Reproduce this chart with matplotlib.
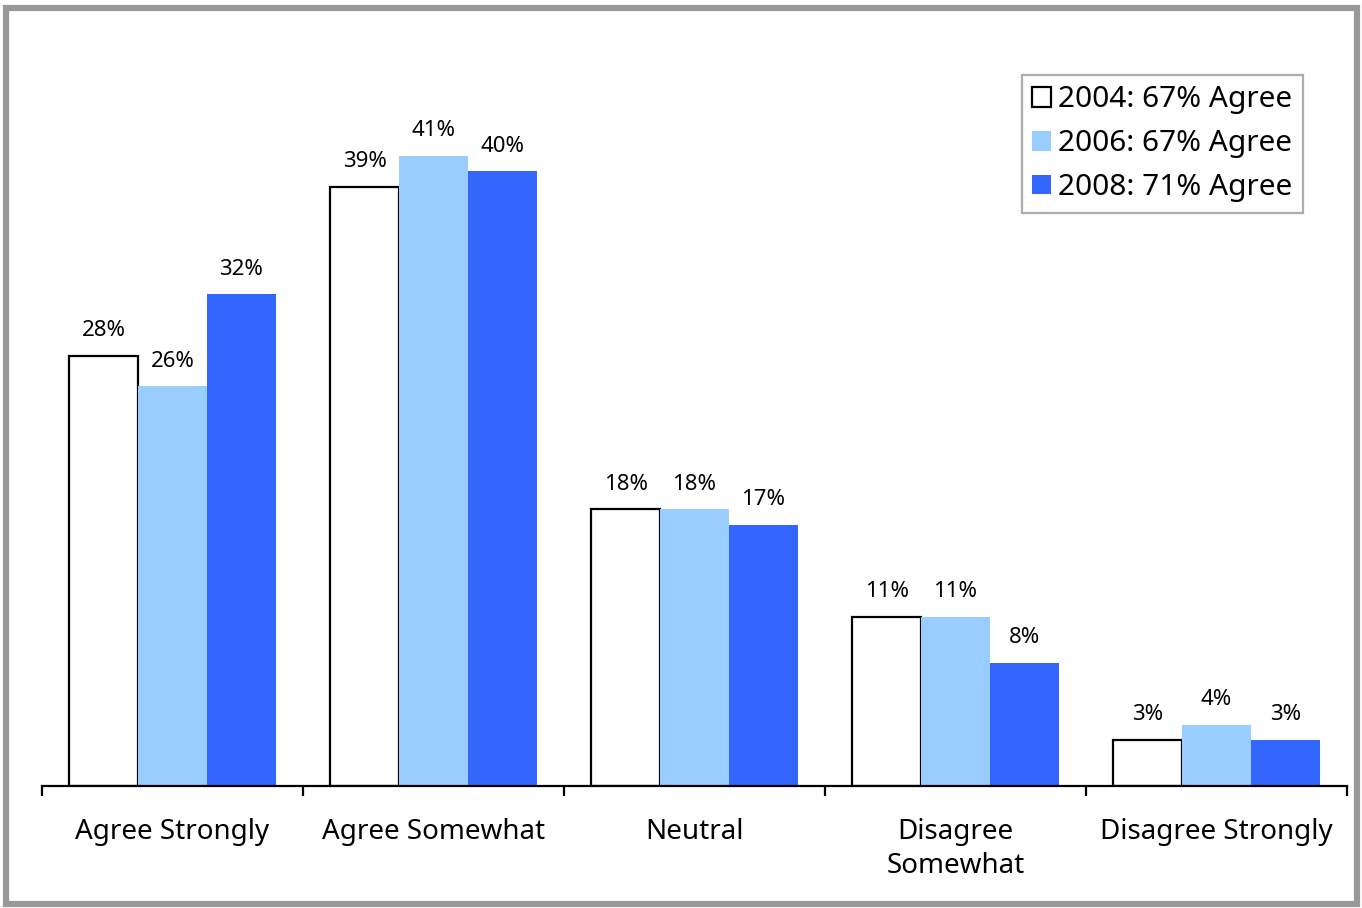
import matplotlib
matplotlib.use("Agg")
import matplotlib.pyplot as plt
from matplotlib.patches import Rectangle
import numpy as np

plt.rcParams['font.family'] = ['Noto Sans', 'DejaVu Sans']

categories = ["Agree Strongly", "Agree Somewhat", "Neutral", "Disagree\nSomewhat", "Disagree Strongly"]
series_labels = ["2004: 67% Agree", "2006: 67% Agree", "2008: 71% Agree"]
values_2004 = [28, 39, 18, 11, 3]
values_2006 = [26, 41, 18, 11, 4]
values_2008 = [32, 40, 17, 8, 3]

series = [values_2004, values_2006, values_2008]
faces = ["white", "#99CCFF", "#3366FF"]
edges = ["black", "none", "none"]

fig = plt.figure(figsize=(13.62, 9.08), dpi=100)
ax = fig.add_axes([42 / 1362, 1 - 786 / 908, 1305 / 1362, (786 - 17.5) / 908])

x = np.arange(len(categories))
w = 0.264
for k, vals in enumerate(series):
    pos = x + (k - 1) * w
    bars = ax.bar(pos, vals, width=w, color=faces[k], edgecolor=edges[k],
                  linewidth=1.6 if edges[k] != "none" else 0, label=series_labels[k], zorder=2)
    for b, v in zip(bars, vals):
        ax.annotate(f"{v}%", (b.get_x() + b.get_width() / 2, v), xytext=(0, 10.5),
                    textcoords="offset points", ha="center", va="bottom", fontsize=16)

ax.set_xlim(-0.5, len(categories) - 0.5)
ax.set_ylim(0, 50)
for s in ["left", "right", "top"]:
    ax.spines[s].set_visible(False)
ax.spines["bottom"].set_linewidth(1.6)
ax.spines["bottom"].set_zorder(3)
ax.set_yticks([])
ax.set_xticks(np.arange(len(categories) + 1) - 0.5, minor=False)
ax.set_xticklabels([])
ax.tick_params(axis="x", which="major", direction="out", length=7, width=1.6)
ax.set_xticks(x, minor=True)
ax.set_xticklabels(categories, minor=True, fontsize=20, linespacing=1.3)
ax.tick_params(axis="x", which="minor", length=0, pad=23)
for lbl in ax.get_xticklabels(minor=True):
    lbl.set_verticalalignment("top")

leg = ax.legend(loc="upper right", bbox_to_anchor=(1303 / 1362, 1 - 75 / 908),
                bbox_transform=fig.transFigure, fontsize=21.5, frameon=True, fancybox=False,
                handlelength=0.62, handleheight=0.62, handletextpad=0.25, labelspacing=0.5,
                borderpad=0.35, borderaxespad=0)
leg.get_frame().set_edgecolor("#999999")
leg.get_frame().set_linewidth(1.6)

fig.patches.append(Rectangle((5.5 / 1362, 1 - 903.5 / 908), 1351 / 1362, 896 / 908,
                             transform=fig.transFigure, fill=False, edgecolor="#999999",
                             linewidth=4.5, zorder=10))

fig.savefig("out.png", dpi=100)
